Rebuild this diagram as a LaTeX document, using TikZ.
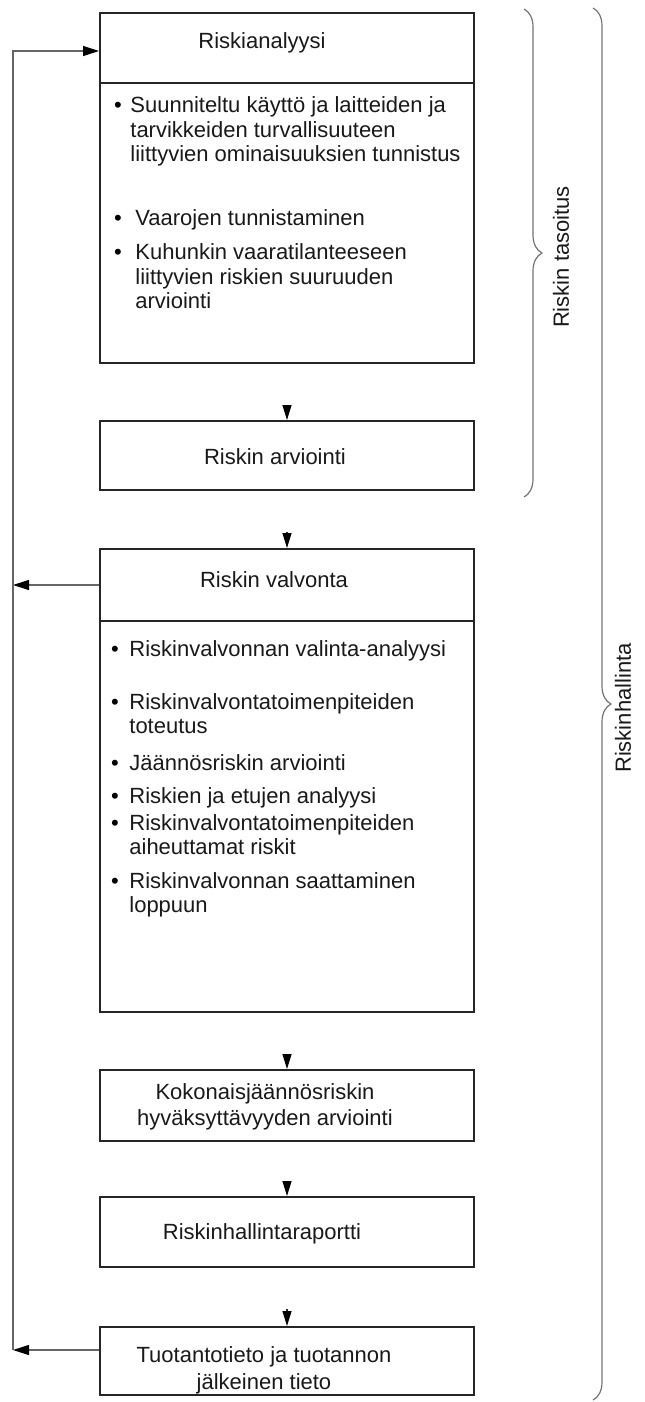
\documentclass[tikz,border=0pt]{standalone}
\usepackage{fontspec}
\setmainfont{Liberation Sans}
\usetikzlibrary{arrows.meta,decorations.pathreplacing}

\begin{document}
\begin{tikzpicture}[x=0.5pt,y=-0.5pt,
  box/.style={draw=black!85,line width=1pt,minimum width=187pt,inner sep=0pt},
  lbl/.style={font=\fontsize{11}{13}\selectfont,align=center,inner sep=0pt,text=black!90},
  item/.style={font=\fontsize{11}{12}\selectfont,align=left,anchor=base west,inner sep=0pt,text=black!90},
  dot/.style={font=\fontsize{11}{12}\selectfont,anchor=base,inner sep=0pt},
  flow/.style={-{Triangle[length=7.5pt,width=4.5pt,color=black]},line width=0.6pt,draw=black!85,shorten <=20.5pt},
  fb/.style={draw=black!60,line width=0.6pt},
  fbtip/.style={fb,-{Triangle[length=8pt,width=5pt,color=black]}},
  brc/.style={draw=black!55,line width=0.6pt,decorate,decoration={brace,amplitude=9pt}}]
\useasboundingbox (0,0) rectangle (644,1402);

% boxes
\node[box,minimum height=35pt]    (ra)   at (287,48)     {};
\node[box,minimum height=140pt]   (rab)  at (287,223)    {};
\node[box,minimum height=34.5pt]  (rarv) at (287,455.5)  {};
\node[box,minimum height=36pt]    (rv)   at (287,585)    {};
\node[box,minimum height=195.5pt] (rvb)  at (287,816.5)  {};
\node[box,minimum height=35.5pt]  (kj)   at (287,1105.5) {};
\node[box,minimum height=35pt]    (rr)   at (287,1232)   {};
\node[box,minimum height=34pt]    (tt)   at (287,1361)   {};

% headings
\node[lbl] (ra-t)   at (262,43)   {Riskianalyysi};
\node[lbl] (rarv-t) at (275,457)  {Riskin arviointi};
\node[lbl] (rv-t)   at (274,580)  {Riskin valvonta};
\node[lbl] (kj-t)   at (265,1107) {Kokonaisjäännösriskin\\hyväksyttävyyden arviointi};
\node[lbl] (rr-t)   at (262,1234) {Riskinhallintaraportti};
\node[lbl,font=\fontsize{11}{13.5}\selectfont] (tt-t) at (264,1370) {Tuotantotieto ja tuotannon\\jälkeinen tieto};

% bullet lists (bullet on first baseline, text node on last baseline)
\foreach \n/\x/\y/\yb/\txt in {1/130/112.5/161.5/{Suunniteltu käyttö ja laitteiden ja\\tarvikkeiden turvallisuuteen\\liittyvien ominaisuuksien tunnistus},
    2/135/225.5/225.5/{Vaarojen tunnistaminen},
    3/135/259.5/308.5/{Kuhunkin vaaratilanteeseen\\liittyvien riskien suuruuden\\arviointi}} {
  \node[dot] (ab\n) at (118,\y) {•};
  \node[item,font=\fontsize{11}{12.25}\selectfont] (ai\n) at (\x,\yb) {\txt};
}
\foreach \n/\y/\yb/\txt in {1/656.5/656.5/{Riskinvalvonnan valinta-analyysi},
    2/709.5/733.5/{Riskinvalvontatoimenpiteiden\\toteutus},
    3/770.5/770.5/{Jäännösriskin arviointi},
    4/803.5/803.5/{Riskien ja etujen analyysi},
    5/830.5/854.5/{Riskinvalvontatoimenpiteiden\\aiheuttamat riskit},
    6/888/912/{Riskinvalvonnan saattaminen\\loppuun}} {
  \node[dot] (vb\n) at (115,\y) {•};
  \node[item] (vi\n) at (129,\yb) {\txt};
}

% flow
\draw[flow] (rab.south) -- (rarv.north);
\draw[flow] (rarv.south) -- (rv.north);
\draw[flow] (rvb.south) -- (kj.north);
\draw[flow] (kj.south) -- (rr.north);
\draw[flow] (rr.south) -- (tt.north);

% feedback
\coordinate (fb-top) at (13,51);
\coordinate (fb-bot) at (13,1350);
\draw[fbtip] ([yshift=5.5pt]tt.west) -- (fb-bot);
\draw[fbtip] (rv.west) -- (fb-top |- rv.west);
\draw[fbtip] (fb-bot) -- (fb-top) -- (fb-top -| ra.west);

% braces
\coordinate (b1-top) at (524,9);
\coordinate (b1-bot) at (524,497);
\coordinate (b2-top) at (593,8);
\coordinate (b2-bot) at (593,1400);
\draw[brc] (b1-top) -- (b1-bot);
\draw[brc] (b2-top) -- (b2-bot);
\node[lbl,rotate=90] (tas) at (561,257) {Riskin tasoitus};
\node[lbl,rotate=90] (hal) at (623,708) {Riskinhallinta};
\end{tikzpicture}
\end{document}
